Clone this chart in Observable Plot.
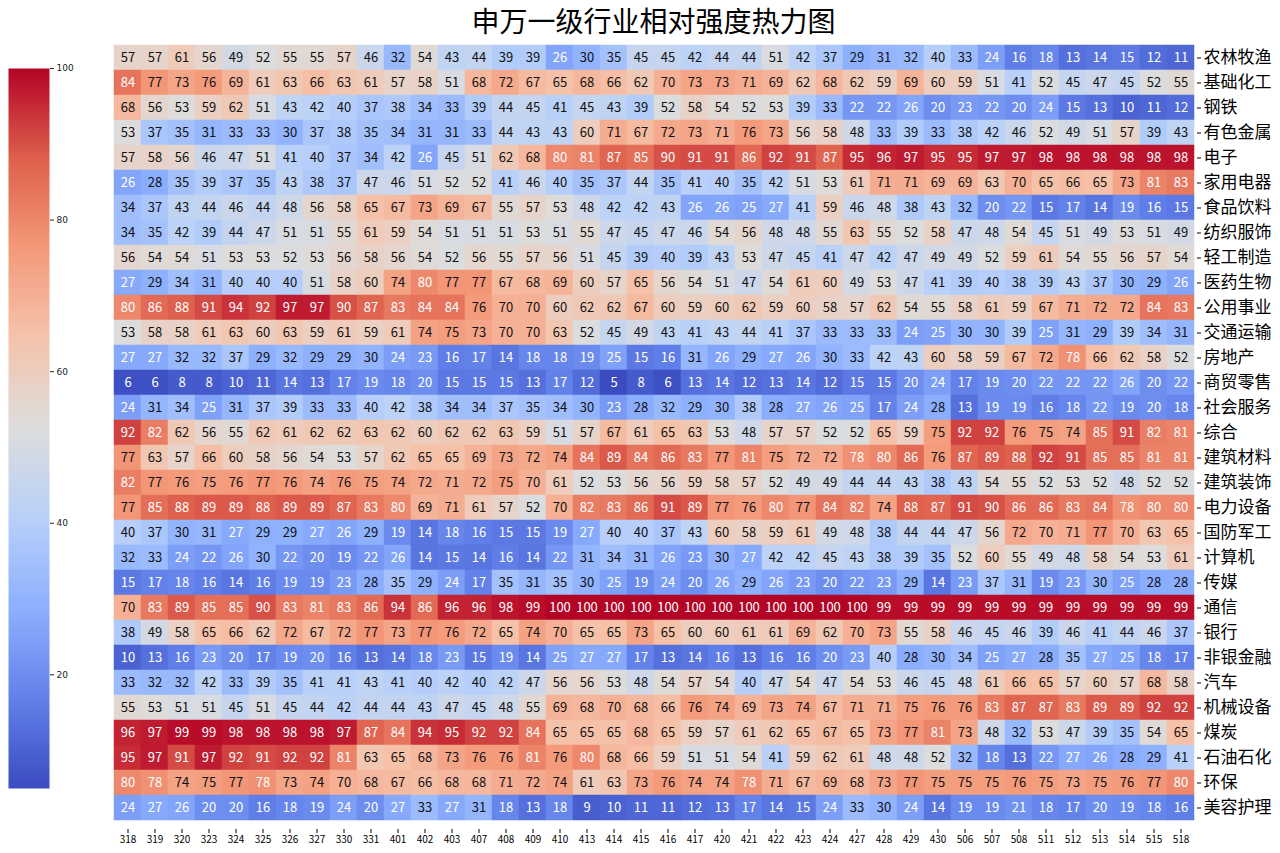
<!DOCTYPE html>
<html><head><meta charset="utf-8">
<script src="https://cdn.jsdelivr.net/npm/d3@7"></script>
<script src="https://cdn.jsdelivr.net/npm/@observablehq/plot@0.6"></script>
<style>
body{margin:0;background:#fff;}
#wrap{position:relative;width:1280px;height:853px;overflow:hidden;font-family:"Noto Sans CJK SC",sans-serif;background:#fff;}
#title{position:absolute;left:111px;width:1085px;top:1px;text-align:center;font-size:28px;line-height:38px;color:#000;}
#main{position:absolute;left:0;top:0;}
#cbar{position:absolute;left:0;top:62px;}
</style></head><body>
<div id="wrap"><div id="main"></div><div id="cbar"></div><div id="title">申万一级行业相对强度热力图</div></div>
<script>
const periods = ["318","319","320","323","324","325","326","327","330","331","401","402","403","407","408","409","410","413","414","415","416","417","420","421","422","423","424","427","428","429","430","506","507","508","511","512","513","514","515","518"];
const industries = ["农林牧渔","基础化工","钢铁","有色金属","电子","家用电器","食品饮料","纺织服饰","轻工制造","医药生物","公用事业","交通运输","房地产","商贸零售","社会服务","综合","建筑材料","建筑装饰","电力设备","国防军工","计算机","传媒","通信","银行","非银金融","汽车","机械设备","煤炭","石油石化","环保","美容护理"];
const strength = [
[57,57,61,56,49,52,55,55,57,46,32,54,43,44,39,39,26,30,35,45,45,42,44,44,51,42,37,29,31,32,40,33,24,16,18,13,14,15,12,11],
[84,77,73,76,69,61,63,66,63,61,57,58,51,68,72,67,65,68,66,62,70,73,73,71,69,62,68,62,59,69,60,59,51,41,52,45,47,45,52,55],
[68,56,53,59,62,51,43,42,40,37,38,34,33,39,44,45,41,45,43,39,52,58,54,52,53,39,33,22,22,26,20,23,22,20,24,15,13,10,11,12],
[53,37,35,31,33,33,30,37,38,35,34,31,31,33,44,43,43,60,71,67,72,73,71,76,73,56,58,48,33,39,33,38,42,46,52,49,51,57,39,43],
[57,58,56,46,47,51,41,40,37,34,42,26,45,51,62,68,80,81,87,85,90,91,91,86,92,91,87,95,96,97,95,95,97,97,98,98,98,98,98,98],
[26,28,35,39,37,35,43,38,37,47,46,51,52,52,41,46,40,35,37,44,35,41,40,35,42,51,53,61,71,71,69,69,63,70,65,66,65,73,81,83],
[34,37,43,44,46,44,48,56,58,65,67,73,69,67,55,57,53,48,42,42,43,26,26,25,27,41,59,46,48,38,43,32,20,22,15,17,14,19,16,15],
[34,35,42,39,44,47,51,51,55,61,59,54,51,51,51,53,51,55,47,45,47,46,54,56,48,48,55,63,55,52,58,47,48,54,45,51,49,53,51,49],
[56,54,54,51,53,53,52,53,56,58,56,54,52,56,55,57,56,51,45,39,40,39,43,53,47,45,41,47,42,47,49,49,52,59,61,54,55,56,57,54],
[27,29,34,31,40,40,40,51,58,60,74,80,77,77,67,68,69,60,57,65,56,54,51,47,54,61,60,49,53,47,41,39,40,38,39,43,37,30,29,26],
[80,86,88,91,94,92,97,97,90,87,83,84,84,76,70,70,60,62,62,67,60,59,60,62,59,60,58,57,62,54,55,58,61,59,67,71,72,72,84,83],
[53,58,58,61,63,60,63,59,61,59,61,74,75,73,70,70,63,52,45,49,43,41,43,44,41,37,33,33,33,24,25,30,30,39,25,31,29,39,34,31],
[27,27,32,32,37,29,32,29,29,30,24,23,16,17,14,18,18,19,25,15,16,31,26,29,27,26,30,33,42,43,60,58,59,67,72,78,66,62,58,52],
[6,6,8,8,10,11,14,13,17,19,18,20,15,15,15,13,17,12,5,8,6,13,14,12,13,14,12,15,15,20,24,17,19,20,22,22,22,26,20,22],
[24,31,34,25,31,37,39,33,33,40,42,38,34,34,37,35,34,30,23,28,32,29,30,38,28,27,26,25,17,24,28,13,19,19,16,18,22,19,20,18],
[92,82,62,56,55,62,61,62,62,63,62,60,62,62,63,59,51,57,67,61,65,63,53,48,57,57,52,52,65,59,75,92,92,76,75,74,85,91,82,81],
[77,63,57,66,60,58,56,54,53,57,62,65,65,69,73,72,74,84,89,84,86,83,77,81,75,72,72,78,80,86,76,87,89,88,92,91,85,85,81,81],
[82,77,76,75,76,77,76,74,76,75,74,72,71,72,75,70,61,52,53,56,56,59,58,57,52,49,49,44,44,43,38,43,54,55,52,53,52,48,52,52],
[77,85,88,89,89,88,89,89,87,83,80,69,71,61,57,52,70,82,83,86,91,89,77,76,80,77,84,82,74,88,87,91,90,86,86,83,84,78,80,80],
[40,37,30,31,27,29,29,27,26,29,19,14,18,16,15,15,19,27,40,40,37,43,60,58,59,61,49,48,38,44,44,47,56,72,70,71,77,70,63,65],
[32,33,24,22,26,30,22,20,19,22,26,14,15,14,16,14,22,31,34,31,26,23,30,27,42,42,45,43,38,39,35,52,60,55,49,48,58,54,53,61],
[15,17,18,16,14,16,19,19,23,28,35,29,24,17,35,31,35,30,25,19,24,20,26,29,26,23,20,22,23,29,14,23,37,31,19,23,30,25,28,28],
[70,83,89,85,85,90,83,81,83,86,94,86,96,96,98,99,100,100,100,100,100,100,100,100,100,100,100,100,99,99,99,99,99,99,99,99,99,99,99,99],
[38,49,58,65,66,62,72,67,72,77,73,77,76,72,65,74,70,65,65,73,65,60,60,61,61,69,62,70,73,55,58,46,45,46,39,46,41,44,46,37],
[10,13,16,23,20,17,19,20,16,13,14,18,23,15,19,14,25,27,27,17,13,14,16,13,16,16,20,23,40,28,30,34,25,27,28,35,27,25,18,17],
[33,32,32,42,33,39,35,41,41,43,41,40,42,40,42,47,56,56,53,48,54,57,54,40,47,54,47,54,53,46,45,48,61,66,65,57,60,57,68,58],
[55,53,51,51,45,51,45,44,42,44,44,43,47,45,48,55,69,68,70,68,66,76,74,69,73,74,67,71,71,75,76,76,83,87,87,83,89,89,92,92],
[96,97,99,99,98,98,98,98,97,87,84,94,95,92,92,84,65,65,65,68,65,59,57,61,62,65,67,65,73,77,81,73,48,32,53,47,39,35,54,65],
[95,97,91,97,92,91,92,92,81,63,65,68,73,76,76,81,76,80,68,66,59,51,51,54,41,59,62,61,48,48,52,32,18,13,22,27,26,28,29,41],
[80,78,74,75,77,78,73,74,70,68,67,66,68,68,71,72,74,61,63,73,76,74,74,78,71,67,69,68,73,77,75,75,75,76,75,73,75,76,77,80],
[24,27,26,20,20,16,18,19,24,20,27,33,27,31,18,13,18,9,10,11,11,12,13,17,14,15,24,33,30,24,14,19,19,21,18,17,20,19,18,16]
];
const colorbarTicks = [20, 40, 60, 80, 100];
const valueDomain = [5, 100];
const coolwarm = ["#3b4cc0","#6282ea","#8db0fe","#b8d0f9","#dddddd","#f5c4ac","#f49a7b","#de604d","#b40426"];

const pw = d3.piecewise(d3.interpolateRgb, coolwarm);
const colorScale = {type: "linear", domain: valueDomain, interpolate: (t) => pw(t)};

const cells = [];
industries.forEach((ind, i) => periods.forEach((p, j) => cells.push({industry: ind, period: p, value: strength[i][j]})));
const isLight = (d) => d.value <= 27 || d.value >= 78;

const font = '"Noto Sans CJK SC", sans-serif';
const main = Plot.plot({
  width: 1280, height: 853,
  marginTop: 36, marginBottom: 24, marginLeft: 111, marginRight: 84,
  style: {fontFamily: font, background: "white", color: "#000"},
  x: {domain: periods, padding: 0, label: null},
  y: {domain: industries, padding: 0, label: null},
  color: colorScale,
  marks: [
    Plot.cell(cells, {x: "period", y: "industry", fill: "value", inset: 0, stroke: "value", strokeWidth: 0.5}),
    Plot.text(cells.filter(isLight), {x: "period", y: "industry", text: (d) => String(d.value), fill: "white", fontSize: 13}),
    Plot.text(cells.filter((d) => !isLight(d)), {x: "period", y: "industry", text: (d) => String(d.value), fill: "#111", fontSize: 13}),
    Plot.axisX({anchor: "bottom", tickSize: 4, tickPadding: 2, fontSize: 10, label: null}),
    Plot.axisY({anchor: "right", tickSize: 4, tickPadding: 3, fontSize: 17, label: null})
  ]
});
document.getElementById("main").appendChild(main);

const cbar = Plot.plot({
  width: 90, height: 732,
  marginTop: 6, marginBottom: 6, marginLeft: 8, marginRight: 41,
  style: {fontFamily: '"DejaVu Sans", sans-serif', background: "transparent", color: "#222"},
  x: {domain: [0, 1], axis: null},
  y: {domain: valueDomain, axis: null},
  color: colorScale,
  marks: [
    Plot.raster({x1: 0, x2: 1, y1: valueDomain[0], y2: valueDomain[1], width: 1, height: 300, fill: (x, y) => y, imageRendering: "auto"}),
    Plot.axisY({anchor: "right", ticks: colorbarTicks, tickSize: 4, tickPadding: 3, fontSize: 9, label: null})
  ]
});
document.getElementById("cbar").appendChild(cbar);
</script>
</body></html>
